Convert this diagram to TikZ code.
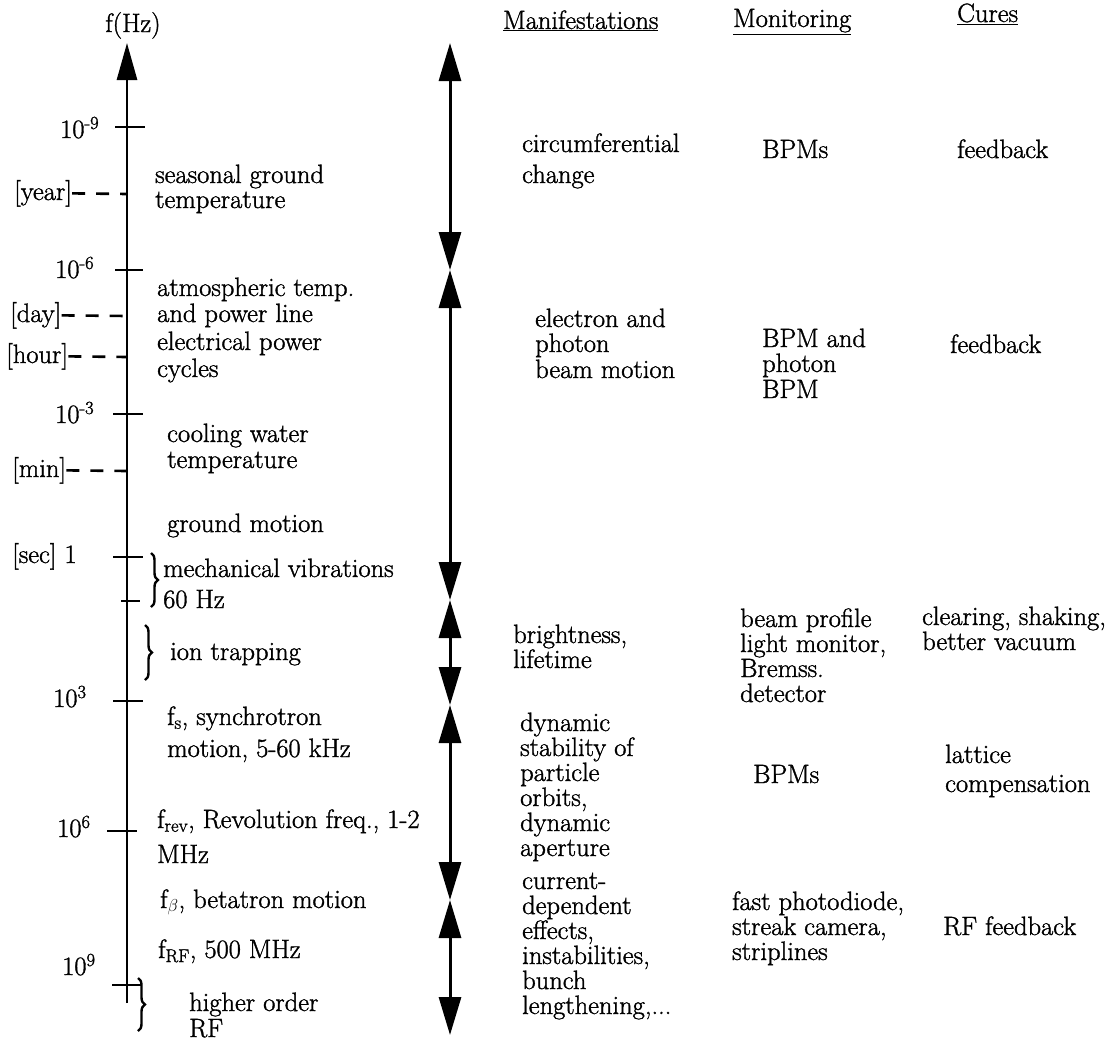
\documentclass[tikz,border=0pt]{standalone}
\usepackage{fontspec}
\setmainfont{Latin Modern Roman}[FakeBold=1.3]
\usetikzlibrary{arrows.meta,decorations.pathreplacing}
\lineskiplimit=-30pt\relax
\begin{document}
\begin{tikzpicture}[x=1pt,y=-1pt,
  every node/.style={font=\fontsize{26.5}{25}\selectfont, inner sep=0pt},
  txt/.style={anchor=base west, align=left},
  axisline/.style={line width=2.8pt, -{Triangle[length=37pt,width=20pt]}},
  tickline/.style={line width=2.8pt},
  dashline/.style={line width=2.6pt, dash pattern=on 13pt off 11pt},
  darrow/.style={line width=3pt, {Triangle[length=38pt,width=22pt]}-{Triangle[length=38pt,width=22pt]}},
  bracestyle/.style={decorate, decoration={brace, amplitude=7pt}, line width=2.4pt}]
\useasboundingbox (0,0) rectangle (1116,1058);

% ---------- frequency axis ----------
\coordinate (axbot) at (127,1003);
\coordinate (axtop) at (127,43);
\draw[axisline] (axbot) -- (axtop);
\node[anchor=base] (fhz) at (133,32) {f(Hz)};

% ticks
\coordinate (k9l) at (115,127);  \coordinate (k9r) at (145,127);
\coordinate (k6l) at (115,270);  \coordinate (k6r) at (143,270);
\coordinate (k3l) at (113,414);  \coordinate (k3r) at (143,414);
\coordinate (k0l) at (113,557);  \coordinate (k0r) at (143,557);
\coordinate (khl) at (121,601);  \coordinate (khr) at (140,601);
\coordinate (p3l) at (113,701);  \coordinate (p3r) at (143,701);
\coordinate (p6l) at (107,831);  \coordinate (p6r) at (137,831);
\coordinate (p9l) at (112,985);  \coordinate (p9r) at (142,985);
\foreach \a/\b in {k9l/k9r,k6l/k6r,k3l/k3r,k0l/k0r,khl/khr,p3l/p3r,p6l/p6r,p9l/p9r}
  \draw[tickline] (\a) -- (\b);

% tick labels
\node[txt] (lm9) at (60,138) {10\textsuperscript{-9}};
\node[txt] (lm6) at (55,278) {10\textsuperscript{-6}};
\node[txt] (lm3) at (55,423) {10\textsuperscript{-3}};
\node[txt] (lsec) at (12,563) {[sec]\hspace{8pt}1};
\node[txt] (lp3) at (53,707) {10\textsuperscript{3}};
\node[txt] (lp6) at (57,837) {10\textsuperscript{6}};
\node[txt] (lp9) at (62,975) {10\textsuperscript{9}};

% time marks with dashed leaders
\node[txt] (year) at (14,200) {[year]};
\node[txt] (day) at (10,322) {[day]};
\node[txt] (hour) at (6,363) {[hour]};
\node[txt] (min) at (12,477) {[min]};
\coordinate (dyear) at (127,194);
\coordinate (dday) at (127,316);
\coordinate (dhour) at (127,357);
\coordinate (dmin) at (127,471);
\draw[dashline] (year.east) -- (dyear);
\draw[dashline] (day.east) -- (dday);
\draw[dashline] (hour.east) -- (dhour);
\draw[dashline] (min.east) -- (dmin);

% braces
\coordinate (b1t) at (151,553); \coordinate (b1b) at (151,607);
\coordinate (b2t) at (145,625); \coordinate (b2b) at (145,680);
\coordinate (b3t) at (138,978); \coordinate (b3b) at (138,1031);
\draw[bracestyle] (b1t) -- (b1b);
\draw[bracestyle] (b2t) -- (b2b);
\draw[bracestyle] (b3t) -- (b3b);

% sources (base anchor = last line)
\node[txt] (seas) at (155,208) {seasonal ground\\temperature};
\node[txt] (atm) at (157,322) {atmospheric temp.\\[1pt]and power line};
\node[txt] (elec) at (157,377) {electrical power\\[2pt]cycles};
\node[txt] (cool) at (167,468) {cooling water\\[1pt]temperature};
\node[txt] (grnd) at (167,532) {ground motion};
\node[txt] (mech) at (163,608) {mechanical vibrations\\[6pt]60 Hz};
\node[txt] (ion) at (170,660) {ion trapping};
\node[txt] (fs) at (167,757) {f\textsubscript{s}, synchrotron\\[7pt]motion, 5-60 kHz};
\node[txt] (frev) at (157,863) {f\textsubscript{rev}, Revolution freq., 1-2\\[10pt]MHz};
\node[txt] (fb) at (160,908) {f\textsubscript{$\beta$}, betatron motion};
\node[txt] (frf) at (158,958) {f\textsubscript{RF}, 500 MHz};
\node[txt] (hord) at (189,1037) {higher order\\[1pt]RF};

% ---------- manifestation ranges ----------
\coordinate (m0) at (450,43);
\coordinate (m1) at (450,270);
\coordinate (m2) at (450,600);
\coordinate (m3) at (450,705);
\coordinate (m4) at (450,900);
\coordinate (m5) at (450,1035);
\draw[darrow] (m0) -- (m1);
\draw[darrow] (m1) -- (m2);
\draw[darrow] (m2) -- (m3);
\draw[darrow] (m3) -- (m4);
\draw[darrow] (m4) -- (m5);

% headers
\node[txt] (hman) at (503,29) {\underline{Manifestations}};
\node[txt] (hmon) at (733,27) {\underline{Monitoring}};
\node[txt] (hcur) at (957,22) {\underline{Cures}};

% manifestations
\node[txt] (man1) at (522,183) {circumferential\\[6pt]change};
\node[txt] (man2) at (535,378) {electron and\\photon\\[1pt]beam motion};
\node[txt] (man3) at (513,668) {brightness,\\lifetime};
\node[txt] (man4) at (520,856) {dynamic\\stability of\\particle\\orbits,\\dynamic\\aperture};
\node[txt] (man5) at (522,1014) {current-\\dependent\\effects,\\instabilities,\\bunch\\lengthening,...};

% monitoring
\node[txt] (mon1) at (762,158) {BPMs};
\node[txt] (mon2) at (762,398) {BPM and\\photon\\[1pt]BPM};
\node[txt] (mon3) at (740,702) {beam profile\\light monitor,\\Bremss.\\detector};
\node[txt] (mon4) at (753,783) {BPMs};
\node[txt] (mon5) at (732,960) {fast photodiode,\\streak camera,\\striplines};

% cures
\node[txt] (cur1) at (957,158) {feedback};
\node[txt] (cur2) at (950,353) {feedback};
\node[txt] (cur3) at (922,650) {clearing, shaking,\\better vacuum};
\node[txt] (cur4) at (945,792) {lattice\\[4pt]compensation};
\node[txt] (cur5) at (943,935) {RF feedback};
\end{tikzpicture}
\end{document}
